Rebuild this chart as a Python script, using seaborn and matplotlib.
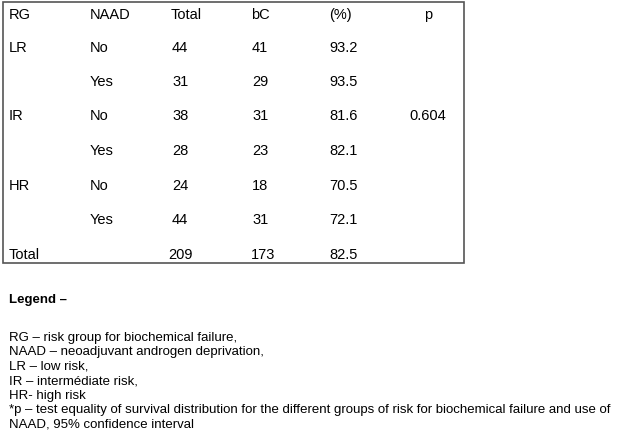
import pandas as pd
import matplotlib
matplotlib.use("Agg")
import matplotlib.pyplot as plt
import seaborn as sns

# Table data
header = ["RG", "NAAD", "Total", "bC", "(%)", "p"]
risk_group = ["LR", "", "IR", "", "HR", "", "Total"]
naad = ["No", "Yes", "No", "Yes", "No", "Yes", ""]
total = ["44", "31", "38", "28", "24", "44", "209"]
bc = ["41", "29", "31", "23", "18", "31", "173"]
pct = ["93.2", "93.5", "81.6", "82.1", "70.5", "72.1", "82.5"]
pval = ["", "", "0.604", "", "", "", ""]

legend_title = "Legend \u2013"
legend_lines = [
    "RG \u2013 risk group for biochemical failure,",
    "NAAD \u2013 neoadjuvant androgen deprivation,",
    "LR \u2013 low risk,",
    "IR \u2013 interm\u00e9diate risk,",
    "HR- high risk",
    "*p \u2013 test equality of survival distribution for the different groups of risk for biochemical failure and use of",
    "NAAD, 95% confidence interval",
]

df = pd.DataFrame({"RG": risk_group, "NAAD": naad, "Total": total,
                   "bC": bc, "(%)": pct, "p": pval})

sns.set_theme(style="white")
plt.rcParams["font.family"] = ["Liberation Sans", "DejaVu Sans"]

fig = plt.figure(figsize=(6.2, 4.35), dpi=100)
ax = fig.add_axes([0, 0, 1, 1])
ax.set_xlim(0, 620)
ax.set_ylim(435, 0)
ax.axis("off")

# table frame
ax.add_patch(plt.Rectangle((3, 3), 461, 261, fill=False, edgecolor="#555555", lw=1.2))

col_x = [9, 90, 171, 251, 329, 428]
row_y = [15, 48, 82, 116, 151, 186, 220, 255]
fs = 10.5

for j, h in enumerate(header):
    ha = "center" if h == "p" else "left"
    ax.text(col_x[j], row_y[0], h, fontsize=fs, ha=ha, va="center", color="black")

for i, row in df.iterrows():
    for j, col in enumerate(df.columns):
        val = row[col]
        if not val:
            continue
        ha = "center" if col == "p" else "left"
        x = col_x[j]
        if col in ("Total", "bC") and len(val) < 3:
            x += 1
        if col == "Total" and len(val) == 3:
            x -= 3
        ax.text(x, row_y[i + 1], val, fontsize=fs, ha=ha, va="center", color="black")

lfs = 9.55
ax.text(9, 300, legend_title, fontsize=lfs, fontweight="bold", ha="left", va="center", color="black")
for k, line in enumerate(legend_lines):
    ax.text(9, 338 + k * 14.4, line, fontsize=lfs, ha="left", va="center", color="black")

fig.savefig("out.png", dpi=100)
